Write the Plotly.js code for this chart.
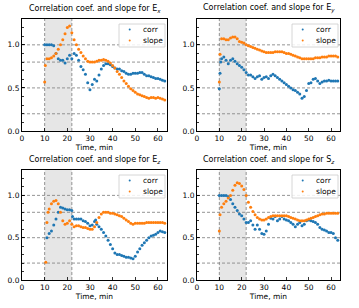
<!DOCTYPE html>
<html><head><meta charset="utf-8">
<script src="https://cdn.plot.ly/plotly-3.0.1.min.js"></script>
<style>html,body{margin:0;padding:0;background:#fff}#c{width:359px;height:308px}</style>
</head><body><div id="c"></div>
<script>
// ---- data ----
const tEx_corr = [10,11,12,13,14,15,16,17,18,19,20,21,22,23,24,25,26,27,28,29,30,31,32,33,34,35,36,37,38,39,40,41,42,43,44,45,46,47,48,49,50,51,52,53,54,55,56,57,58,59,60,61,62,63];
const Ex_corr = [1.0,1.0,1.0,1.0,0.99,0.9,0.84,0.82,0.82,0.79,0.84,0.88,0.84,0.9,0.88,0.82,0.75,0.71,0.66,0.56,0.48,0.54,0.6,0.58,0.65,0.72,0.76,0.78,0.78,0.77,0.75,0.73,0.72,0.72,0.7,0.69,0.67,0.66,0.66,0.67,0.67,0.67,0.68,0.68,0.66,0.64,0.64,0.63,0.62,0.61,0.61,0.6,0.59,0.58];
const tEx_slope = [10,10.3,11,12,13,14,15,16,17,18,19,20,21,22,23,24,25,26,27,28,29,30,31,32,33,34,35,36,37,38,39,40,41,42,43,44,45,46,47,48,49,50,51,52,53,54,55,56,57,58,59,60,61,62,63];
const Ex_slope = [0.57,0.76,0.84,0.84,0.85,0.87,0.9,0.95,1.0,1.06,1.13,1.2,1.22,1.14,1.06,1.0,0.95,0.91,0.87,0.84,0.81,0.8,0.8,0.8,0.81,0.82,0.82,0.83,0.82,0.81,0.79,0.76,0.73,0.69,0.66,0.62,0.58,0.55,0.52,0.49,0.47,0.45,0.43,0.42,0.41,0.4,0.39,0.38,0.39,0.39,0.38,0.39,0.38,0.37,0.36];

const tEy_corr = [10,10.3,10.6,11,12,13,14,15,16,17,18,19,20,21,22,23,24,25,26,27,28,29,30,31,32,33,34,35,36,37,38,39,40,41,42,43,44,45,46,47,48,49,50,51,52,53,54,55,56,57,58,59,60,61,62,63];
const Ey_corr = [0.49,0.67,0.8,0.84,0.86,0.82,0.78,0.82,0.84,0.81,0.78,0.76,0.74,0.71,0.68,0.65,0.65,0.63,0.61,0.63,0.64,0.6,0.62,0.63,0.61,0.64,0.66,0.64,0.62,0.6,0.58,0.56,0.54,0.52,0.5,0.48,0.47,0.45,0.43,0.38,0.4,0.47,0.55,0.56,0.6,0.61,0.58,0.55,0.57,0.58,0.58,0.59,0.58,0.58,0.58,0.58];
const tEy_slope = [10,10.3,11,12,13,14,15,16,17,18,19,20,21,22,23,24,25,26,27,28,29,30,31,32,33,34,35,36,37,38,39,40,41,42,43,44,45,46,47,48,49,50,51,52,53,54,55,56,57,58,59,60,61,62,63];
const Ey_slope = [0.57,0.89,1.07,1.07,1.06,1.06,1.08,1.09,1.09,1.07,1.04,1.03,1.02,1.0,0.99,0.98,0.97,0.96,0.95,0.94,0.93,0.92,0.91,0.91,0.91,0.91,0.92,0.92,0.92,0.92,0.91,0.9,0.9,0.89,0.88,0.87,0.86,0.85,0.84,0.84,0.84,0.84,0.84,0.84,0.85,0.85,0.85,0.86,0.86,0.86,0.87,0.87,0.87,0.87,0.86];

const tEz_corr = [11,12,13,14,15,16,17,18,19,20,21,22,22.3,23,24,25,26,27,28,29,30,31,32,32.5,33,34,35,36,37,38,39,40,41,42,43,44,45,46,47,48,49,50,51,52,53,54,55,56,57,58,59,60,61,62,63];
const Ez_corr = [0.5,0.55,0.58,0.65,0.72,0.8,0.86,0.85,0.84,0.83,0.83,0.82,0.75,0.72,0.72,0.72,0.72,0.7,0.69,0.67,0.64,0.65,0.69,0.71,0.66,0.63,0.6,0.56,0.52,0.47,0.42,0.37,0.32,0.3,0.3,0.29,0.28,0.27,0.27,0.26,0.25,0.28,0.33,0.37,0.41,0.44,0.47,0.5,0.52,0.53,0.54,0.56,0.58,0.57,0.56];
const tEz_slope = [10.5,11,11.5,12,13,14,15,16,17,18,19,20,21,22,23,24,25,26,27,28,29,30,31,32,33,34,35,36,37,38,39,40,41,42,43,44,45,46,47,48,49,50,51,52,53,54,55,56,57,58,59,60,61,62,63];
const Ez_slope = [0.21,0.68,0.8,0.84,0.9,0.93,0.94,0.9,0.8,0.7,0.66,0.67,0.7,0.66,0.63,0.64,0.64,0.63,0.62,0.62,0.61,0.6,0.6,0.63,0.68,0.74,0.78,0.8,0.8,0.8,0.79,0.79,0.78,0.77,0.76,0.75,0.73,0.71,0.69,0.67,0.66,0.67,0.67,0.67,0.67,0.67,0.68,0.68,0.68,0.68,0.68,0.68,0.68,0.68,0.67];

const tSz_corr = [10,11,12,13,14,15,16,17,18,19,20,21,22,23,24,25,26,27,28,29,30,31,32,33,34,35,36,37,38,39,40,41,42,43,44,45,46,47,48,49,50,51,52,53,54,55,56,57,58,59,60,61,62,63];
const Sz_corr = [1.0,1.0,1.0,1.0,0.98,0.95,0.9,0.86,0.82,0.78,0.76,0.72,0.68,0.68,0.7,0.65,0.6,0.65,0.6,0.55,0.54,0.58,0.66,0.73,0.72,0.75,0.7,0.72,0.75,0.72,0.71,0.7,0.68,0.66,0.63,0.66,0.68,0.64,0.66,0.7,0.71,0.7,0.69,0.68,0.66,0.62,0.6,0.59,0.58,0.56,0.56,0.55,0.5,0.47];
const tSz_slope = [10,10.3,11,12,13,14,15,16,17,18,19,20,21,22,23,24,25,26,27,28,29,30,31,32,33,34,35,36,37,38,39,40,41,42,43,44,45,46,47,48,49,50,51,52,53,54,55,56,57,58,59,60,61,62,63];
const Sz_slope = [0.58,0.77,0.86,0.9,0.93,0.97,1.0,1.06,1.12,1.15,1.14,1.11,1.07,1.0,0.92,0.86,0.81,0.77,0.74,0.72,0.71,0.71,0.72,0.74,0.75,0.76,0.76,0.76,0.76,0.76,0.76,0.76,0.75,0.74,0.73,0.72,0.71,0.7,0.7,0.7,0.71,0.72,0.73,0.74,0.75,0.76,0.77,0.78,0.78,0.79,0.79,0.79,0.79,0.79,0.79];

const titles = ['E<sub><i>x</i></sub>','E<sub><i>y</i></sub>','E<sub><i>z</i></sub>','S<sub><i>z</i></sub>'];
const seriesNames = ['corr', 'slope'];
const shadeStart = 10, shadeEnd = 22;
const hLines = [0.2, 0.5, 0.8, 1.0];
const xTicks = [0,10,20,30,40,50,60];
const yTicks = [0.0,0.5,1.0];
const yTickText = ['0.0','0.5','1.0'];

// ---- build ----
const W = 359, H = 308;
const px = [[22,167],[197,340],[22,167],[197,340]];
const py = [[19,131],[19,131],[170,280],[170,280]];
const series = [
  [tEx_corr,Ex_corr,tEx_slope,Ex_slope],
  [tEy_corr,Ey_corr,tEy_slope,Ey_slope],
  [tEz_corr,Ez_corr,tEz_slope,Ez_slope],
  [tSz_corr,Sz_corr,tSz_slope,Sz_slope]
];
const font = 'DejaVu Sans, sans-serif';
const colors = ['#1f77b4', '#ff7f0e'];
const traces = [], shapes = [], annotations = [];
const layout = {
  width: W, height: H, margin: {l:0,r:0,t:0,b:0},
  paper_bgcolor: '#fff', plot_bgcolor: 'rgba(0,0,0,0)',
  font: {family: font, size: 7.5, color: '#000'},
  showlegend: false
};
const dashStyle = '3px,2px';
const PX = v => v / W, PY = v => 1 - v / H;
for (let i = 0; i < 4; i++) {
  const n = i === 0 ? '' : String(i + 1);
  const xa = 'x' + n, ya = 'y' + n;
  const [tc, vc, ts, vs] = series[i];
  traces.push({x: tc, y: vc, xaxis: xa, yaxis: ya, type: 'scatter', mode: 'markers', name: seriesNames[0],
    marker: {color: colors[0], size: 3}, cliponaxis: true});
  traces.push({x: ts, y: vs, xaxis: xa, yaxis: ya, type: 'scatter', mode: 'markers', name: seriesNames[1],
    marker: {color: colors[1], size: 3}, cliponaxis: true});
  const dx = [px[i][0]/W, px[i][1]/W];
  const dy = [1 - py[i][1]/H, 1 - py[i][0]/H];
  const axCommon = {showgrid: false, zeroline: false, showline: true, linecolor: '#000', linewidth: 1, mirror: true,
    ticks: 'inside', ticklen: 3, tickwidth: 0.8, tickcolor: '#000', tickfont: {family: font, size: 7.5, color: '#000'}};
  layout['xaxis' + n] = Object.assign({}, axCommon, {domain: dx, anchor: ya, range: [0, 64],
    tickvals: xTicks, title: {text: 'Time, min', font: {family: font, size: 7.5}, standoff: 2}});
  layout['yaxis' + n] = Object.assign({}, axCommon, {domain: dy, anchor: xa, range: [0, 1.3],
    tickvals: yTicks, ticktext: yTickText,
    minor: {ticks: 'inside', ticklen: 2, tickcolor: '#000', dtick: 0.1, tick0: 0, showgrid: false}});
  shapes.push({type: 'rect', xref: xa, yref: ya + ' domain', x0: shadeStart, x1: shadeEnd, y0: 0, y1: 1,
    fillcolor: 'rgba(128,128,128,0.2)', line: {width: 0}, layer: 'below'});
  [shadeStart, shadeEnd].forEach(v => shapes.push({type: 'line', xref: xa, yref: ya + ' domain', x0: v, x1: v, y0: 0, y1: 1,
    line: {color: '#888', width: 0.9, dash: dashStyle}, layer: 'below'}));
  hLines.forEach(v => shapes.push({type: 'line', xref: xa + ' domain', yref: ya, x0: 0, x1: 1, y0: v, y1: v,
    line: {color: '#888', width: 0.9, dash: dashStyle}, layer: 'below'}));
  annotations.push({text: 'Correlation coef. and slope for ' + titles[i], xref: 'paper', yref: 'paper',
    x: (dx[0] + dx[1]) / 2, y: dy[1] + 3/H, xanchor: 'center', yanchor: 'bottom', showarrow: false,
    font: {family: font, size: 8, color: '#000'}});
  // legend box (matplotlib style)
  const R = px[i][1], T = py[i][0];
  shapes.push({type: 'rect', xref: 'paper', yref: 'paper', x0: PX(R - 48), x1: PX(R - 2), y0: PY(T + 28), y1: PY(T + 5),
    fillcolor: 'rgba(255,255,255,0.85)', line: {color: '#cccccc', width: 0.8}, layer: 'above'});
  [T + 10.5, T + 21.5].forEach((yy, k) => {
    shapes.push({type: 'circle', xref: 'paper', yref: 'paper', x0: PX(R - 38.3), x1: PX(R - 36.3),
      y0: PY(yy + 1), y1: PY(yy - 1), fillcolor: colors[k], line: {width: 0}, layer: 'above'});
    annotations.push({text: seriesNames[k], xref: 'paper', yref: 'paper', x: PX(R - 26), y: PY(yy),
      xanchor: 'left', yanchor: 'middle', showarrow: false, font: {family: font, size: 7.5, color: '#000'}});
  });
}
layout.shapes = shapes;
layout.annotations = annotations;
Plotly.newPlot('c', traces, layout, {staticPlot: true, displayModeBar: false});
</script></body></html>
